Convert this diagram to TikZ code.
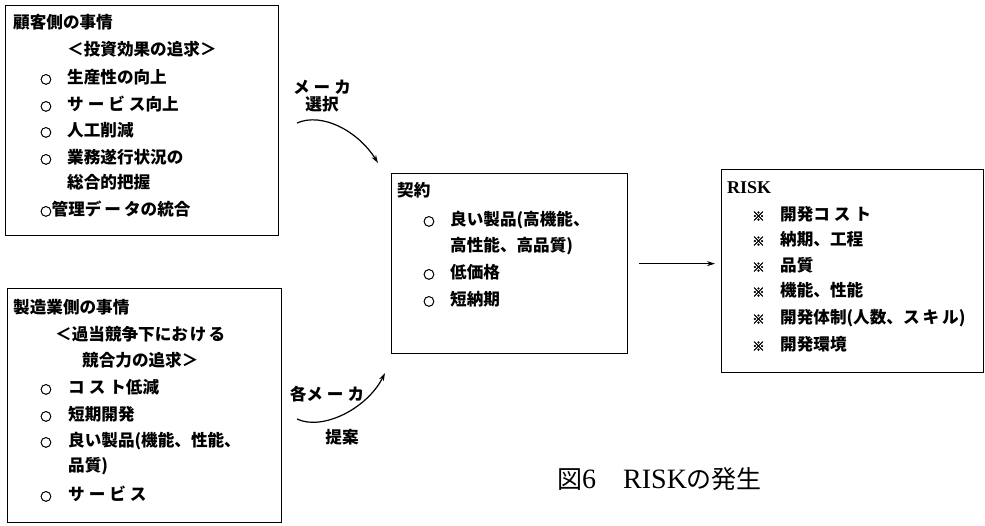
\documentclass[tikz,border=0pt]{standalone}
\usepackage{fontspec}
\setmainfont{Noto Sans CJK JP}
\newfontfamily\serifrisk{Liberation Serif}
\newfontfamily\bulfont{Noto Sans CJK JP}[FakeBold=3]
\usetikzlibrary{arrows.meta}
\newcommand{\bul}{{\bulfont\fontsize{11.5}{11.5}\selectfont ○}}
\newcommand{\kome}{{\bulfont\fontsize{12.5}{12.5}\selectfont ※}}
\newcommand{\ks}{\kern4pt}
\begin{document}
\begin{tikzpicture}[x=1pt,y=-1pt,
  frame/.style={draw, line width=1.3pt, inner sep=0pt, anchor=north west},
  txt/.style={anchor=west, inner sep=0pt, font=\fontsize{16.6}{16.6}\selectfont\bfseries, text height=0.88em, text depth=0.12em},
  lbl/.style={anchor=center, inner sep=0pt, font=\fontsize{16.6}{16.6}\selectfont\bfseries, text height=0.88em, text depth=0.12em},
  arr/.style={line width=1.2pt, -{Stealth[length=8pt,width=5pt]}}]
\useasboundingbox (0,0) rectangle (985,526);
% boxes
\node[frame, minimum width=273pt, minimum height=230pt] (cust) at (5,5) {};
\node[frame, minimum width=274pt, minimum height=234pt] (maker) at (7,288) {};
\node[frame, minimum width=236pt, minimum height=180pt] (mid) at (391,173) {};
\node[frame, minimum width=262pt, minimum height=203pt] (risk) at (721,169) {};
% customer box text
\node[txt] (c0) at (13,25) {顧客側の事情};
\node[txt] (c1) at (67,52) {＜投資効果の追求＞};
\node[txt] (c2b) at (40,80) {\bul};
\node[txt] (c2) at (67,80) {生産性の向上};
\node[txt] (c3b) at (40,107) {\bul};
\node[txt] (c3) at (67,107) {サ\ks ー\ks ビ\ks ス向上};
\node[txt] (c4b) at (40,133) {\bul};
\node[txt] (c4) at (67,133) {人工削減};
\node[txt] (c5b) at (40,160) {\bul};
\node[txt] (c5) at (67,160) {業務遂行状況の};
\node[txt] (c6) at (67,185) {総合的把握};
\node[txt] (c7) at (40,212) {\bul 管理デ\kern3pt ー\kern3pt タの統合};
% maker box text
\node[txt] (m0) at (13,310) {製造業側の事情};
\node[txt] (m1) at (55,337) {＜過当競争下にお\kern2pt け\kern2pt る};
\node[txt] (m2) at (82,363) {競合力の追求＞};
\node[txt] (m3b) at (40,390) {\bul};
\node[txt] (m3) at (68,390) {コ\ks ス\ks ト低減};
\node[txt] (m4b) at (40,417) {\bul};
\node[txt] (m4) at (68,417) {短期開発};
\node[txt] (m5b) at (40,443) {\bul};
\node[txt] (m5) at (68,443) {良い製品(機能、性能、};
\node[txt] (m6) at (68,468) {品質)};
\node[txt] (m7b) at (40,497) {\bul};
\node[txt] (m7) at (68,497) {サ\ks ー\ks ビ\ks ス};
% middle box text
\node[txt] (k0) at (397,193) {契約};
\node[txt] (k1b) at (423,222) {\bul};
\node[txt] (k1) at (450,222) {良い製品(高機能、};
\node[txt] (k2) at (450,248) {高性能、高品質)};
\node[txt] (k3b) at (423,275) {\bul};
\node[txt] (k3) at (450,275) {低価格};
\node[txt] (k4b) at (423,302) {\bul};
\node[txt] (k4) at (450,302) {短納期};
% risk box text
\node[txt, font=\fontsize{18}{18}\selectfont\serifrisk\bfseries] (r0) at (727,190) {RISK};
\node[txt] (r1b) at (752,217) {\kome};
\node[txt] (r1) at (780,217) {開発コ\ks ス\ks ト};
\node[txt] (r2b) at (752,242) {\kome};
\node[txt] (r2) at (780,242) {納期、工程};
\node[txt] (r3b) at (752,268) {\kome};
\node[txt] (r3) at (780,268) {品質};
\node[txt] (r4b) at (752,293) {\kome};
\node[txt] (r4) at (780,293) {機能、性能};
\node[txt] (r5b) at (752,320) {\kome};
\node[txt] (r5) at (780,320) {開発体制(人数、ス\kern3pt キ\kern3pt ル)};
\node[txt] (r6b) at (752,347) {\kome};
\node[txt] (r6) at (780,347) {開発環境};
% arrow labels
\node[lbl] (l1) at (322,90) {メ\ks ー\ks カ};
\node[lbl] (l2) at (322,107) {選択};
\node[lbl] (l3) at (327,397) {各メ\ks ー\ks カ};
\node[lbl] (l4) at (342,440) {提案};
% connectors
\coordinate (a1s) at (297,123);
\coordinate (a1e) at (378,163);
\coordinate (a2s) at (297,419);
\coordinate (a2e) at (385,373);
\draw[arr] (a1s) .. controls (322,112) and (358,131) .. (a1e);
\draw[arr] (a2s) .. controls (322,431) and (367,409) .. (a2e);
\draw[arr, shorten <=11pt, shorten >=6pt] (mid.east) -- (mid.east -| risk.west);
% caption
\node[anchor=west, inner sep=0pt, font=\fontsize{25}{25}\selectfont, text height=0.88em, text depth=0.12em] (cap) at (557,485) {図{\serifrisk\fontsize{28}{28}\selectfont 6}\kern27pt{\serifrisk\fontsize{28}{28}\selectfont RISK}の発生};
\end{tikzpicture}
\end{document}
